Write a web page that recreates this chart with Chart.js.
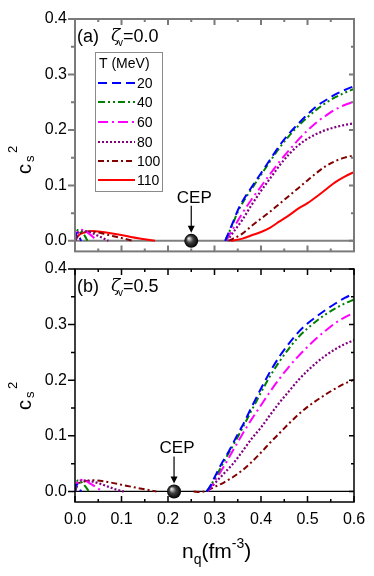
<!DOCTYPE html>
<html>
<head>
<meta charset="utf-8">
<script src="https://cdn.jsdelivr.net/npm/chart.js@4.4.0/dist/chart.umd.min.js"></script>
<style>
  body { margin: 0; background: #fff; }
  #wrap { position: relative; width: 374px; height: 576px; }
  canvas { position: absolute; left: 0; }
</style>
</head>
<body>
<div id="wrap">
  <canvas id="chartA" width="374" height="269" style="top:0"></canvas>
  <canvas id="chartB" width="374" height="326" style="top:250px"></canvas>
</div>
<script>
const FONT = "'Liberation Sans', Arial, sans-serif";

const temps = ["20", "40", "60", "80", "100", "110"];
const colors = ["#0000ff", "#008000", "#ff00ff", "#800080", "#800000", "#ff0000"];
const dashes = [[9, 5], [7, 3, 2, 3, 2, 3], [10, 4, 2, 4], [2, 2], [6, 3, 2, 3], []];

const xTicks = [0, 0.1, 0.2, 0.3, 0.4, 0.5, 0.6];
const yTicks = [0, 0.1, 0.2, 0.3, 0.4];

const cepA = 0.25;
const cepB = 0.213;

// panel (a), zeta_v = 0.0 : [n_q, c_s^2]
const aLow20 = [[0, 0], [0.002, 0.012], [0.005, 0.014], [0.009, 0.008], [0.013, 0]];
const aLow40 = [[0, 0], [0.003, 0.015], [0.008, 0.02], [0.015, 0.016], [0.021, 0.009], [0.027, 0]];
const aLow60 = [[0, 0], [0.004, 0.014], [0.01, 0.02], [0.02, 0.019], [0.03, 0.013], [0.04, 0.006], [0.047, 0]];
const aLow80 = [[0, 0], [0.005, 0.012], [0.012, 0.017], [0.025, 0.017], [0.04, 0.013], [0.055, 0.007], [0.072, 0]];
const aLow100 = [[0, 0], [0.006, 0.01], [0.015, 0.015], [0.03, 0.017], [0.05, 0.015], [0.075, 0.01], [0.1, 0.005], [0.126, 0]];
const aLow110 = [[0, 0], [0.008, 0.01], [0.02, 0.015], [0.037, 0.018], [0.06, 0.016], [0.09, 0.012], [0.12, 0.007], [0.15, 0.003], [0.172, 0]];

const aHigh20 = [[0.323, 0], [0.33, 0.014], [0.34, 0.034], [0.35, 0.055], [0.36, 0.071], [0.38, 0.097], [0.40, 0.122], [0.42, 0.147], [0.44, 0.172], [0.46, 0.193], [0.48, 0.211], [0.50, 0.228], [0.52, 0.243], [0.54, 0.254], [0.56, 0.264], [0.58, 0.272], [0.60, 0.279]];
const aHigh40 = [[0.323, 0], [0.33, 0.013], [0.34, 0.032], [0.35, 0.052], [0.36, 0.068], [0.38, 0.094], [0.40, 0.119], [0.42, 0.144], [0.44, 0.168], [0.46, 0.189], [0.48, 0.207], [0.50, 0.223], [0.52, 0.237], [0.54, 0.249], [0.56, 0.259], [0.58, 0.267], [0.60, 0.274]];
const aHigh60 = [[0.325, 0], [0.33, 0.008], [0.34, 0.022], [0.35, 0.036], [0.36, 0.05], [0.38, 0.075], [0.40, 0.098], [0.42, 0.121], [0.44, 0.143], [0.46, 0.163], [0.48, 0.182], [0.50, 0.199], [0.52, 0.214], [0.54, 0.226], [0.56, 0.237], [0.58, 0.245], [0.60, 0.251]];
const aHigh80 = [[0.327, 0], [0.34, 0.015], [0.36, 0.038], [0.38, 0.065], [0.40, 0.09], [0.42, 0.113], [0.44, 0.136], [0.46, 0.156], [0.48, 0.172], [0.50, 0.184], [0.52, 0.193], [0.54, 0.2], [0.56, 0.205], [0.58, 0.209], [0.60, 0.212]];
const aHigh100 = [[0.33, 0], [0.34, 0.004], [0.36, 0.013], [0.38, 0.027], [0.40, 0.04], [0.42, 0.053], [0.44, 0.067], [0.46, 0.081], [0.48, 0.095], [0.50, 0.109], [0.52, 0.123], [0.54, 0.135], [0.56, 0.144], [0.58, 0.15], [0.60, 0.154]];
const aHigh110 = [[0.335, 0], [0.36, 0.004], [0.38, 0.01], [0.40, 0.016], [0.42, 0.024], [0.44, 0.035], [0.46, 0.046], [0.48, 0.058], [0.50, 0.068], [0.52, 0.08], [0.54, 0.093], [0.56, 0.106], [0.58, 0.116], [0.60, 0.124]];

// panel (b), zeta_v = 0.5
const bLow20 = [[0, 0], [0.002, 0.012], [0.006, 0.012], [0.01, 0.005], [0.013, 0]];
const bLow40 = [[0, 0], [0.003, 0.016], [0.008, 0.02], [0.016, 0.015], [0.023, 0.008], [0.03, 0]];
const bLow60 = [[0, 0], [0.004, 0.015], [0.01, 0.021], [0.02, 0.02], [0.035, 0.013], [0.05, 0.005], [0.06, 0]];
const bLow80 = [[0, 0], [0.005, 0.014], [0.015, 0.02], [0.03, 0.019], [0.05, 0.015], [0.07, 0.009], [0.09, 0.003], [0.105, 0]];
const bLow100 = [[0, 0], [0.006, 0.012], [0.02, 0.018], [0.04, 0.02], [0.07, 0.017], [0.1, 0.012], [0.13, 0.007], [0.155, 0.003], [0.175, 0]];

const bHigh20 = [[0.283, 0], [0.29, 0.008], [0.30, 0.025], [0.31, 0.042], [0.32, 0.057], [0.33, 0.071], [0.35, 0.103], [0.36, 0.118], [0.38, 0.152], [0.40, 0.185], [0.42, 0.216], [0.44, 0.243], [0.46, 0.266], [0.48, 0.286], [0.50, 0.302], [0.52, 0.315], [0.54, 0.327], [0.56, 0.338], [0.58, 0.348], [0.60, 0.356]];
const bHigh40 = [[0.283, 0], [0.30, 0.022], [0.32, 0.053], [0.35, 0.098], [0.38, 0.146], [0.40, 0.178], [0.42, 0.208], [0.44, 0.234], [0.46, 0.257], [0.48, 0.277], [0.50, 0.293], [0.52, 0.307], [0.54, 0.319], [0.56, 0.329], [0.58, 0.338], [0.60, 0.345]];
const bHigh60 = [[0.285, 0], [0.30, 0.018], [0.32, 0.045], [0.34, 0.074], [0.36, 0.103], [0.38, 0.13], [0.40, 0.155], [0.42, 0.18], [0.44, 0.203], [0.46, 0.224], [0.48, 0.243], [0.50, 0.26], [0.52, 0.276], [0.54, 0.29], [0.56, 0.303], [0.58, 0.313], [0.60, 0.321]];
const bHigh80 = [[0.285, 0], [0.30, 0.014], [0.32, 0.032], [0.34, 0.05], [0.36, 0.072], [0.38, 0.095], [0.40, 0.115], [0.42, 0.138], [0.44, 0.16], [0.46, 0.18], [0.48, 0.2], [0.50, 0.217], [0.52, 0.232], [0.54, 0.245], [0.56, 0.256], [0.58, 0.265], [0.60, 0.272]];
const bHigh100 = [[0.255, 0], [0.27, -0.001], [0.285, 0.002], [0.30, 0.008], [0.32, 0.016], [0.34, 0.026], [0.36, 0.038], [0.38, 0.053], [0.40, 0.07], [0.42, 0.088], [0.44, 0.105], [0.46, 0.122], [0.48, 0.138], [0.50, 0.152], [0.52, 0.164], [0.54, 0.175], [0.56, 0.185], [0.58, 0.194], [0.60, 0.201]];

const seriesA = [[aLow20, aHigh20], [aLow40, aHigh40], [aLow60, aHigh60], [aLow80, aHigh80], [aLow100, aHigh100], [aLow110, aHigh110]];
const seriesB = [[bLow20, bHigh20], [bLow40, bHigh40], [bLow60, bHigh60], [bLow80, bHigh80], [bLow100, bHigh100]];

// two branches joined by a gap
function branches(low, high) {
  const pts = low.map(p => ({ x: p[0], y: p[1] }));
  pts.push({ x: (low[low.length - 1][0] + high[0][0]) / 2, y: null });
  return pts.concat(high.map(p => ({ x: p[0], y: p[1] })));
}

function ballColor(cep) {
  return (ctx) => {
    const sc = ctx.chart.scales;
    if (!sc.x || !sc.y) return "#111";
    const px = sc.x.getPixelForValue(cep), py = sc.y.getPixelForValue(0);
    if (!isFinite(px) || !isFinite(py)) return "#111";
    const g = ctx.chart.ctx.createRadialGradient(px - 2.5, py - 2.5, 0.5, px, py, 7);
    g.addColorStop(0, "#e0e0e0");
    g.addColorStop(0.45, "#404040");
    g.addColorStop(1, "#000");
    return g;
  };
}

const decor = {
  id: "decor",
  beforeDatasetsDraw(chart, args, o) {
    const { ctx, chartArea: a, scales: { y } } = chart;
    const y0 = y.getPixelForValue(0);
    ctx.save();
    ctx.strokeStyle = o.zeroColor;
    ctx.lineWidth = o.zeroWidth;
    ctx.beginPath();
    ctx.moveTo(a.left, y0);
    ctx.lineTo(a.right, y0);
    ctx.stroke();
    ctx.restore();
  },
  afterDatasetsDraw(chart, args, o) {
    const { ctx, scales: { x, y } } = chart;
    // CEP marker
    const cx = x.getPixelForValue(o.cep), cy = y.getPixelForValue(0);
    ctx.save();
    ctx.fillStyle = "#000";
    ctx.strokeStyle = "#000";
    ctx.font = "17px " + FONT;
    ctx.textAlign = "center";
    ctx.textBaseline = "middle";
    ctx.fillText("CEP", cx + 3, cy - 43);
    ctx.lineWidth = 1.2;
    ctx.beginPath();
    ctx.moveTo(cx, cy - 35);
    ctx.lineTo(cx, cy - 12);
    ctx.stroke();
    ctx.beginPath();
    ctx.moveTo(cx - 3.5, cy - 15);
    ctx.lineTo(cx, cy - 8);
    ctx.lineTo(cx + 3.5, cy - 15);
    ctx.closePath();
    ctx.fill();

    // panel tag
    ctx.textAlign = "left";
    ctx.textBaseline = "alphabetic";
    ctx.font = "18px " + FONT;
    ctx.fillText(o.tag, 77, 42);
    ctx.font = "italic 17px 'DejaVu Serif', serif";
    ctx.fillText("\u03b6", 111, 41);
    ctx.font = "10px " + FONT;
    ctx.fillText("v", 118, 46);
    ctx.font = "18px " + FONT;
    ctx.fillText("=" + o.zeta, 123, 42);

    // y title c_s^2
    ctx.translate(31, o.yTitleY);
    ctx.rotate(-Math.PI / 2);
    ctx.font = "20px " + FONT;
    ctx.fillText("c", 0, 0);
    ctx.font = "13px " + FONT;
    ctx.fillText("s", 12, 3);
    ctx.fillText("2", 21, -14);
    ctx.restore();

    if (o.legend) drawLegend(chart);
    if (o.xTitle) {
      ctx.save();
      ctx.fillStyle = "#000";
      ctx.textBaseline = "alphabetic";
      ctx.font = "21px " + FONT;
      let px = 182;
      const base = 308;
      ctx.fillText("n", px, base); px += ctx.measureText("n").width;
      ctx.font = "14px " + FONT;
      ctx.fillText("q", px, base + 6); px += ctx.measureText("q").width;
      ctx.font = "21px " + FONT;
      ctx.fillText("(fm", px, base); px += ctx.measureText("(fm").width;
      ctx.font = "14px " + FONT;
      ctx.fillText("-3", px, base - 10); px += ctx.measureText("-3").width;
      ctx.font = "21px " + FONT;
      ctx.fillText(")", px, base);
      ctx.restore();
    }
  },
  afterDraw(chart, args, o) {
    const { ctx, chartArea: a, scales: { x, y } } = chart;
    ctx.save();
    ctx.strokeStyle = o.frameColor;
    ctx.lineWidth = o.frameWidth;
    ctx.strokeRect(a.left, a.top, a.right - a.left, a.bottom - a.top);
    ctx.beginPath();
    for (let i = 0; i <= 12; i++) {
      const px = x.getPixelForValue(i * 0.05);
      const len = i % 2 === 0 ? 6 : 3;
      ctx.moveTo(px, a.bottom); ctx.lineTo(px, a.bottom - len);
      ctx.moveTo(px, a.top); ctx.lineTo(px, a.top + len);
    }
    for (let i = 0; i <= 8; i++) {
      const py = y.getPixelForValue(i * 0.05);
      const major = i % 2 === 0;
      ctx.moveTo(a.left, py); ctx.lineTo(a.left - (major ? 7 : 4), py);
      ctx.moveTo(a.right, py); ctx.lineTo(a.right - (major ? 5 : 3), py);
    }
    ctx.stroke();
    ctx.restore();
  }
};

function drawLegend(chart) {
  const ctx = chart.ctx;
  ctx.save();
  ctx.fillStyle = "#fff";
  ctx.fillRect(95, 52, 67, 139);
  ctx.strokeStyle = "#8a8a8a";
  ctx.lineWidth = 1;
  ctx.strokeRect(95.5, 52.5, 67, 139);
  ctx.fillStyle = "#000";
  ctx.font = "14px " + FONT;
  ctx.textBaseline = "middle";
  ctx.fillText("T (MeV)", 99, 64);
  const rows = [83, 102, 122, 142, 161, 180];
  temps.forEach((t, i) => {
    const ds = chart.data.datasets[i];
    ctx.strokeStyle = ds.borderColor;
    ctx.lineWidth = ds.borderWidth;
    ctx.setLineDash(ds.borderDash);
    ctx.beginPath();
    ctx.moveTo(98, rows[i]);
    ctx.lineTo(135, rows[i]);
    ctx.stroke();
    ctx.setLineDash([]);
    ctx.fillText(t, 137, rows[i] + 1);
  });
  ctx.restore();
}

function makePanel(id, series, cep, opts) {
  const datasets = series.map((s, i) => ({
    label: "T = " + temps[i] + " MeV",
    data: branches(s[0], s[1]),
    borderColor: colors[i],
    borderDash: dashes[i],
    borderWidth: i === 3 ? 2.2 : 2,
    pointRadius: 0,
    cubicInterpolationMode: "monotone",
    fill: false
  }));
  datasets.push({
    type: "scatter",
    label: "CEP",
    data: [{ x: cep, y: 0 }],
    pointRadius: 7,
    pointBorderWidth: 0,
    backgroundColor: ballColor(cep),
    borderColor: "#000"
  });

  new Chart(document.getElementById(id), {
    type: "line",
    data: { datasets },
    options: {
      responsive: false,
      animation: false,
      layout: { padding: { top: 19, right: 20, left: 0, bottom: 0 } },
      plugins: {
        legend: { display: false },
        tooltip: { enabled: false },
        decor: opts
      },
      scales: {
        x: {
          type: "linear",
          min: 0,
          max: 0.6,
          afterBuildTicks: (s) => { s.ticks = xTicks.map(v => ({ value: v })); },
          afterFit: (s) => { s.height = opts.xHeight; },
          grid: { display: false, drawTicks: false },
          border: { display: false },
          ticks: {
            display: opts.xLabels,
            padding: 8,
            color: "#000",
            font: { family: FONT, size: 16 },
            callback: (v) => Number(v).toFixed(1)
          }
        },
        y: {
          min: -0.019,
          max: 0.4,
          afterBuildTicks: (s) => { s.ticks = yTicks.map(v => ({ value: v })); },
          afterFit: (s) => { s.width = 75; },
          grid: { display: false, drawTicks: false },
          border: { display: false },
          ticks: {
            padding: 8,
            color: "#000",
            font: { family: FONT, size: 16 },
            callback: (v) => Number(v).toFixed(1)
          }
        }
      }
    },
    plugins: [decor]
  });
}

makePanel("chartA", seriesA, cepA, {
  tag: "(a)", zeta: "0.0", cep: cepA, legend: true, xTitle: false, xLabels: false,
  xHeight: 5, yTitleY: 174, zeroColor: "#808080", zeroWidth: 2,
  frameColor: "#7a7a7a", frameWidth: 2
});
makePanel("chartB", seriesB, cepB, {
  tag: "(b)", zeta: "0.5", cep: cepB, legend: false, xTitle: true, xLabels: true,
  xHeight: 74, yTitleY: 160, zeroColor: "#000", zeroWidth: 1.3,
  frameColor: "#000", frameWidth: 1.5
});
</script>
</body>
</html>
